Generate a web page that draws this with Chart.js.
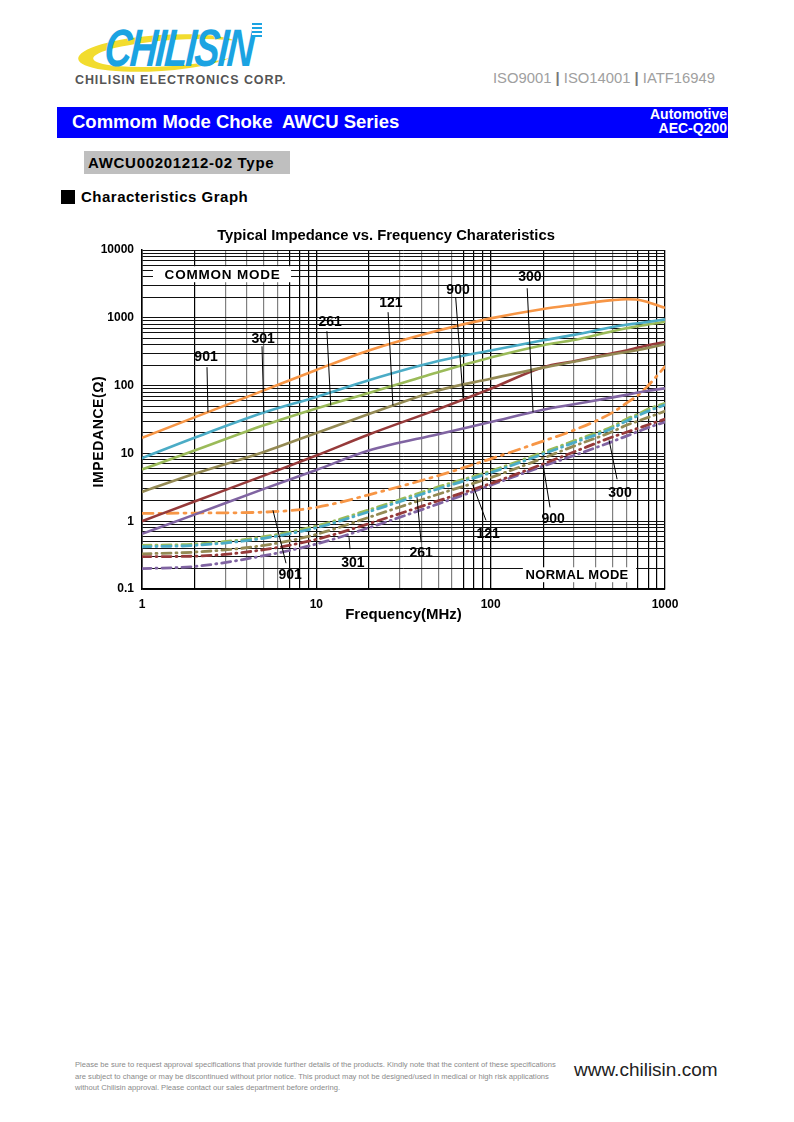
<!DOCTYPE html>
<html>
<head>
<meta charset="utf-8">
<script src="https://cdn.jsdelivr.net/npm/chart.js@4.4.0/dist/chart.umd.min.js"></script>
<style>
  body { margin: 0; background: #fff; font-family: "Liberation Sans", Arial, sans-serif; }
  .page { position: relative; width: 794px; height: 1122px; overflow: hidden; }
  .abs { position: absolute; white-space: nowrap; }
  .logo-ring { left: 78px; top: 35px; width: 165px; height: 36px; border-radius: 50%; background: #f2dc2e; transform: rotate(-4deg); }
  .logo-hole { left: 93px; top: 40px; width: 158px; height: 26px; border-radius: 50%; background: #fff; transform: rotate(-4deg); }
  .logo-text { left: 107px; top: 18px; font-size: 44px; font-weight: bold; font-style: italic; color: #1ba3e2; letter-spacing: -2px; transform-origin: left top; transform: scale(0.86, 1.2) skewX(-6deg); }
  .logo-bars { left: 252px; top: 23px; width: 10px; height: 14px; background: repeating-linear-gradient(#1ba3e2 0 2px, #fff 2px 4px); }
  .corp { left: 75px; top: 73px; font-size: 12.5px; font-weight: bold; color: #555; letter-spacing: 0.9px; }
  .iso { left: 493px; top: 70px; font-size: 14.8px; color: #a0a0a0; }
  .iso b { color: #777; }
  .bar { left: 57px; top: 107px; width: 671px; height: 31px; background: #0000fe; }
  .bar-title { left: 72px; top: 111px; font-size: 18.5px; font-weight: bold; color: #fff; }
  .bar-right { right: 67px; top: 107px; font-size: 14px; font-weight: bold; color: #fff; text-align: right; line-height: 14px; }
  .type { left: 84px; top: 151px; width: 206px; height: 23px; background: #bfbfbf; }
  .type-text { left: 88px; top: 154px; font-size: 15px; font-weight: bold; color: #000; letter-spacing: 0.7px; }
  .sq { left: 61px; top: 190px; width: 14px; height: 14px; background: #000; }
  .graph-title { left: 81px; top: 188px; font-size: 15px; font-weight: bold; color: #000; letter-spacing: 0.5px; }
  .chart-box { left: 60px; top: 222px; width: 652px; height: 410px; }
  .foot { left: 75px; top: 1059px; font-size: 7.6px; line-height: 11.5px; color: #8a8a8a; }
  .web { left: 574px; top: 1059px; font-size: 19px; color: #222; }
</style>
</head>
<body>
<div class="page">
  <div class="abs logo-ring"></div>
  <div class="abs logo-hole"></div>
  <div class="abs logo-text">CHILISIN</div>
  <div class="abs logo-bars"></div>
  <div class="abs corp">CHILISIN ELECTRONICS CORP.</div>
  <div class="abs iso">ISO9001 <b>|</b> ISO14001 <b>|</b> IATF16949</div>

  <div class="abs bar"></div>
  <div class="abs bar-title">Commom Mode Choke&nbsp; AWCU Series</div>
  <div class="abs bar-right">Automotive<br>AEC-Q200</div>

  <div class="abs type"></div>
  <div class="abs type-text">AWCU00201212-02 Type</div>
  <div class="abs sq"></div>
  <div class="abs graph-title">Characteristics Graph</div>

  <div class="abs chart-box"><canvas id="zChart"></canvas></div>

  <div class="abs foot">Please be sure to request approval specifications that provide further details of the products. Kindly note that the content of these specifications<br>are subject to change or may be discontinued without prior notice. This product may not be designed/used in medical or high risk applications<br>without Chilisin approval. Please contact our sales department before ordering.</div>
  <div class="abs web">www.chilisin.com</div>
</div>

<script>
// frequency points (MHz)
const freq = [1, 2, 5, 10, 20, 50, 100, 200, 300, 500, 600, 700, 800, 1000];

// common mode impedance (ohm)
const cm901 = [17, 34, 85, 170, 330, 650, 980, 1350, 1550, 1820, 1880, 1850, 1700, 1400];
const cm301 = [8.5, 17, 40, 68, 120, 230, 330, 465, 560, 730, 790, 830, 870, 950];
const cm261 = [5.8, 11, 26, 46, 78, 158, 260, 395, 470, 635, 700, 750, 800, 870];
const cm121 = [2.7, 5, 10.5, 20, 38, 85, 126, 184, 225, 290, 313, 336, 360, 407];
const cm900 = [1.0, 1.95, 4.7, 9.3, 19, 45, 90, 187, 229, 300, 330, 364, 395, 440];
const cm300 = [0.65, 1.25, 3.0, 5.7, 11, 19.2, 29, 44, 53, 67, 73, 79, 84, 91];

// normal mode impedance (ohm)
const nm901 = [1.3, 1.32, 1.36, 1.6, 2.45, 4.7, 8.3, 15.2, 22, 40, 55, 72, 100, 190];
const nm301 = [0.42, 0.44, 0.56, 0.8, 1.38, 3.0, 5.2, 9.8, 14.4, 23.5, 30, 36, 42, 52];
const nm261 = [0.44, 0.46, 0.59, 0.85, 1.47, 3.2, 5.5, 10.4, 15.3, 25, 32, 38, 45, 55];
const nm121 = [0.33, 0.35, 0.44, 0.64, 1.14, 2.5, 4.4, 8.5, 12.8, 21, 26, 30, 34, 42];
const nm900 = [0.3, 0.305, 0.38, 0.54, 0.92, 2.0, 3.6, 7.0, 10.5, 17.5, 20.5, 23.5, 26.5, 32];
const nm300 = [0.2, 0.215, 0.31, 0.46, 0.8, 1.8, 3.4, 6.5, 9.3, 15, 18, 21, 24, 29];

const xTickLabels = ['1', '10', '100', '1000'];
const yTickLabels = ['0.1', '1', '10', '100', '1000', '10000'];

const colors = {
    c901: '#f79646', c301: '#4bacc6', c261: '#9bbb59',
    c121: '#948a54', c900: '#963a3a', c300: '#8064a2'
};

const chartTitle = 'Typical Impedance vs. Frequency Charateristics';
const yTitle = 'IMPEDANCE(Ω)';

// label text, text position, leader line from -> to  (all in MHz / ohm)
const labels = [
    ['901', 2.33, 263, 2.36, 187, 2.39, 40.5],
    ['301', 4.95, 483, 4.88, 380, 5.0, 40.5],
    ['261', 12.0, 861, 11.5, 635, 12.1, 51],
    ['121', 26.8, 1640, 25.8, 1210, 27.5, 51],
    ['900', 65, 2550, 63, 2010, 69.5, 65],
    ['300', 168, 3970, 162, 2730, 175, 40.5],
    ['901', 7.07, 0.16, 5.64, 1.45, 6.7, 0.24],
    ['301', 16.2, 0.24, 15.4, 0.58, 15.6, 0.386],
    ['261', 39.9, 0.337, 37.8, 2.26, 39.9, 0.49],
    ['121', 96.7, 0.64, 79, 3.4, 94, 1.03],
    ['900', 228, 1.07, 200, 6.7, 219, 1.6],
    ['300', 552, 2.59, 478, 15.6, 531, 4.16]
];
// text, box x1, x2, y1, y2, text x, text y, font size, letter spacing
const modeBoxes = [
    ['COMMON MODE', 1.156, 7.16, 5770, 3350, 2.9, 4240, 13.5, 0.8],
    ['NORMAL MODE', 153, 683, 0.209, 0.126, 313, 0.16, 13, 0.3]
];

function series(values) {
    return freq.map((f, i) => ({x: f, y: values[i]}));
}

function gridTicks(min, max) {
    const out = [];
    for (let e = Math.round(Math.log10(min)); e < Math.round(Math.log10(max)); e++) {
        for (let s = 1; s <= 9; s++) out.push({value: Number((s * Math.pow(10, e)).toPrecision(12))});
    }
    out.push({value: max});
    return out;
}

function isDecade(v) {
    const l = Math.log10(v);
    return Math.abs(l - Math.round(l)) < 1e-9;
}

function solid(label, values, color) {
    return {label, data: series(values), borderColor: color, borderWidth: 2.6,
        pointRadius: 0, cubicInterpolationMode: 'monotone', fill: false};
}
function dashed(label, values, color, dash) {
    return {label, data: series(values), borderColor: color, borderWidth: 2.8,
        borderDash: dash, borderCapStyle: 'round', pointRadius: 0,
        cubicInterpolationMode: 'monotone', fill: false};
}

const notes = {
    id: 'notes',
    beforeDatasetsDraw(chart) {
        const {ctx, scales: {x, y}} = chart;
        ctx.save();
        modeBoxes.forEach(b => {
            const x1 = x.getPixelForValue(b[1]), x2 = x.getPixelForValue(b[2]);
            const y1 = y.getPixelForValue(b[3]), y2 = y.getPixelForValue(b[4]);
            ctx.fillStyle = '#fff';
            ctx.fillRect(x1, y1, x2 - x1, y2 - y1);
            ctx.fillStyle = '#000';
            ctx.font = 'bold ' + b[7] + 'px "Liberation Sans", Arial, sans-serif';
            ctx.letterSpacing = b[8] + 'px';
            ctx.textAlign = 'center';
            ctx.textBaseline = 'middle';
            ctx.fillText(b[0], x.getPixelForValue(b[5]), y.getPixelForValue(b[6]));
        });
        ctx.restore();
    },
    afterDatasetsDraw(chart) {
        const {ctx, chartArea, scales: {x, y}} = chart;
        ctx.save();
        ctx.strokeStyle = '#000';
        ctx.lineWidth = 1;
        ctx.fillStyle = '#000';
        ctx.font = 'bold 14px "Liberation Sans", Arial, sans-serif';
        ctx.textAlign = 'center';
        ctx.textBaseline = 'middle';
        labels.forEach(l => {
            ctx.beginPath();
            ctx.moveTo(x.getPixelForValue(l[3]), y.getPixelForValue(l[4]));
            ctx.lineTo(x.getPixelForValue(l[5]), y.getPixelForValue(l[6]));
            ctx.stroke();
            ctx.fillText(l[0], x.getPixelForValue(l[1]), y.getPixelForValue(l[2]));
        });
        // chart title, centred on the canvas
        ctx.font = 'bold 14.8px "Liberation Sans", Arial, sans-serif';
        ctx.fillText(chartTitle, chart.width / 2, chartArea.top - 14);
        // y axis title
        ctx.translate(chartArea.left - 43, (chartArea.top + chartArea.bottom) / 2 + 12);
        ctx.rotate(-Math.PI / 2);
        ctx.font = 'bold 14px "Liberation Sans", Arial, sans-serif';
        ctx.letterSpacing = '0.6px';
        ctx.fillText(yTitle, 0, 0);
        ctx.restore();
    }
};

Chart.defaults.font.family = '"Liberation Sans", Arial, sans-serif';
Chart.defaults.color = '#000';

const zChart = new Chart(document.getElementById('zChart'), {
    type: 'line',
    data: {
        datasets: [
            solid('901', cm901, colors.c901),
            solid('301', cm301, colors.c301),
            solid('261', cm261, colors.c261),
            solid('121', cm121, colors.c121),
            solid('900', cm900, colors.c900),
            solid('300', cm300, colors.c300),
            dashed('901 N', nm901, colors.c901, [11, 6, 2, 6]),
            dashed('301 N', nm301, colors.c301, [9, 5, 1, 5]),
            dashed('261 N', nm261, colors.c261, [9, 5, 1, 5]),
            dashed('121 N', nm121, colors.c121, [9, 5, 1, 5]),
            dashed('900 N', nm900, colors.c900, [9, 5, 1, 5]),
            dashed('300 N', nm300, colors.c300, [9, 5, 1, 5])
        ]
    },
    options: {
        responsive: true,
        maintainAspectRatio: false,
        animation: false,
        layout: {padding: {left: 0, right: 47, top: 28, bottom: 0}},
        plugins: {
            legend: {display: false},
            tooltip: {enabled: false},
            title: {display: false}
        },
        scales: {
            x: {
                type: 'logarithmic',
                min: 1,
                max: 1000,
                afterBuildTicks: s => { s.ticks = gridTicks(1, 1000); },
                afterFit: s => { s.height = 43; },
                border: {color: '#000', width: 1.5},
                grid: {
                    drawTicks: false,
                    color: c => {
                        if (!c.tick) return '#000';
                        const v = c.tick.value, sig = Math.round(v / Math.pow(10, Math.floor(Math.log10(v) + 1e-9)));
                        return (sig >= 3 && sig <= 6) ? '#808080' : '#000';
                    },
                    lineWidth: c => (c.tick && isDecade(c.tick.value)) ? 1.3 : 1.2
                },
                ticks: {
                    autoSkip: false,
                    maxRotation: 0,
                    padding: 8,
                    color: '#000',
                    font: {size: 12, weight: 'bold'},
                    callback: v => isDecade(v) ? xTickLabels[Math.round(Math.log10(v))] : ''
                },
                title: {
                    display: true,
                    text: 'Frequency(MHz)',
                    color: '#000',
                    font: {size: 15, weight: 'bold'},
                    padding: {top: 0, bottom: 8}
                }
            },
            y: {
                type: 'logarithmic',
                min: 0.1,
                max: 10000,
                afterBuildTicks: s => { s.ticks = gridTicks(0.1, 10000); },
                afterFit: s => { s.width = 82; },
                border: {color: '#000', width: 1.5},
                grid: {
                    drawTicks: false,
                    color: '#111',
                    lineWidth: 1
                },
                ticks: {
                    autoSkip: false,
                    padding: 8,
                    color: '#000',
                    font: {size: 12, weight: 'bold'},
                    callback: v => isDecade(v) ? yTickLabels[Math.round(Math.log10(v)) + 1] : ''
                },
                title: {display: false}
            }
        }
    },
    plugins: [notes]
});
</script>
</body>
</html>
